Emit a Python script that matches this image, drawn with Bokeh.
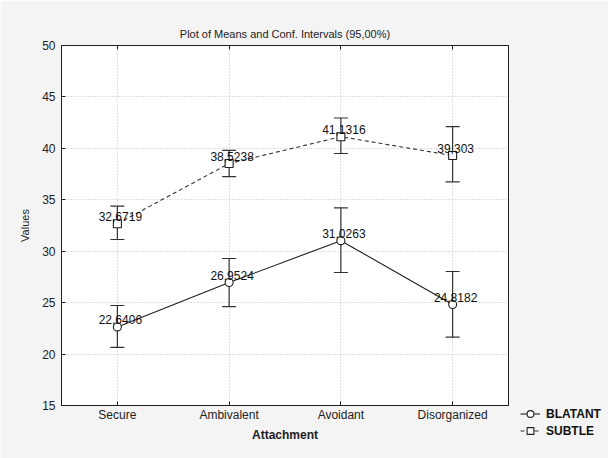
from bokeh.plotting import figure
from bokeh.models import (ColumnDataSource, Whisker, TeeHead, FactorRange, Legend, LegendItem,
                          CategoricalAxis)
from bokeh.core.properties import value
from bokeh.embed import file_html
from bokeh.resources import INLINE

categories = ["Secure", "Ambivalent", "Avoidant", "Disorganized"]
blatant_mean = [22.6406, 26.9524, 31.0263, 24.8182]
blatant_lower = [20.65, 24.62, 27.93, 21.64]
blatant_upper = [24.72, 29.29, 34.22, 28.03]
subtle_mean = [32.6719, 38.5238, 41.1316, 39.303]
subtle_lower = [31.14, 37.26, 39.50, 36.75]
subtle_upper = [34.38, 39.80, 42.95, 42.12]
y_ticks = [15, 20, 25, 30, 35, 40, 45, 50]

def fmt(v):
    return ("%.4f" % v).rstrip("0").replace(".", ",")

FONT = "Liberation Sans"
INK = "#1e1e1e"

p = figure(frame_width=447, frame_height=360, x_range=FactorRange(*categories, range_padding=0),
           y_range=(15, 50), output_backend="svg", toolbar_location=None,
           min_border_left=61, min_border_right=100, min_border_top=45, min_border_bottom=53,
           title="Plot of Means and Conf. Intervals (95,00%)")
p.background_fill_color = "white"
p.border_fill_color = "#f4f4f4"
p.outline_line_color = INK
p.outline_line_width = 1

p.title.align = "center"
p.title.vertical_align = "top"
p.title.text_font = FONT
p.title.text_font_size = "11px"
p.title.text_font_style = "normal"
p.title.text_color = "#222222"
p.title.standoff = 8

for ax in (p.xaxis[0], p.yaxis[0]):
    ax.axis_line_color = INK
    ax.major_tick_line_color = INK
    ax.major_tick_in = 4
    ax.major_tick_out = 0
    ax.minor_tick_line_color = None
    ax.major_label_text_font = FONT
    ax.major_label_text_font_size = "12px"
    ax.major_label_text_color = "#222222"
    ax.axis_label_text_font = FONT
    ax.axis_label_text_color = "#222222"

p.yaxis[0].ticker = y_ticks
p.yaxis[0].axis_label = "Values"
p.yaxis[0].axis_label_text_font_size = "11px"
p.yaxis[0].axis_label_text_font_style = "normal"
p.yaxis[0].major_label_standoff = 6
p.yaxis[0].axis_label_standoff = 8

p.xaxis[0].axis_label = "Attachment"
p.xaxis[0].axis_label_text_font_size = "12px"
p.xaxis[0].axis_label_text_font_style = "bold"
p.xaxis[0].major_label_standoff = 2
p.xaxis[0].axis_label_standoff = 3

# top axis: inward tick marks only (labels not drawn)
top_ax = CategoricalAxis(major_label_text_color=None, major_tick_in=4, major_tick_out=0,
                         axis_line_color=INK, major_tick_line_color=INK, major_label_standoff=0)
p.add_layout(top_ax, "above")

p.xgrid.grid_line_color = "#c0c0c0"
p.xgrid.grid_line_dash = "1 2"
p.ygrid.grid_line_color = "#c0c0c0"
p.ygrid.grid_line_dash = "1 2"

src_b = ColumnDataSource(dict(x=categories, m=blatant_mean, lo=blatant_lower, hi=blatant_upper,
                              lab=[fmt(v) for v in blatant_mean]))
src_s = ColumnDataSource(dict(x=categories, m=subtle_mean, lo=subtle_lower, hi=subtle_upper,
                              lab=[fmt(v) for v in subtle_mean]))

for src in (src_b, src_s):
    w = Whisker(source=src, base="x", upper="hi", lower="lo", line_color="#333333", line_width=1.2,
                upper_head=TeeHead(size=14, line_color="#333333", line_width=1.2),
                lower_head=TeeHead(size=14, line_color="#333333", line_width=1.2))
    p.add_layout(w)

lb = p.line("x", "m", source=src_b, line_color=INK, line_width=1.1)
sb = p.scatter("x", "m", source=src_b, marker="circle", size=8, fill_color="white",
               line_color=INK, line_width=1.1)
ls = p.line("x", "m", source=src_s, line_color="#333333", line_width=1.1, line_dash="4 3")
ss = p.scatter("x", "m", source=src_s, marker="square", size=8, fill_color="white",
               line_color=INK, line_width=1.1)

for src in (src_b, src_s):
    p.text("x", "m", text="lab", source=src, text_font=value(FONT), text_font_size="12px",
           text_color="#111111", text_align="center", text_baseline="alphabetic",
           x_offset=3, y_offset=-7)

legend = Legend(items=[LegendItem(label="BLATANT", renderers=[lb, sb]),
                       LegendItem(label="SUBTLE", renderers=[ls, ss])],
                location=(12, -34), background_fill_alpha=0, border_line_color=None,
                label_text_font=FONT, label_text_font_size="12px", label_text_font_style="bold",
                label_text_color="#111111", glyph_width=20, glyph_height=17, spacing=0,
                padding=2, label_standoff=6, margin=0)
p.add_layout(legend, "right")

open("out.html", "w").write(file_html(p, INLINE))
